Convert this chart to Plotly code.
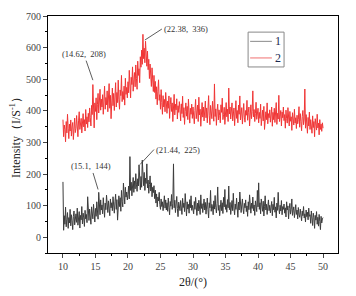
import plotly.graph_objects as go

# intensity of sample 1 (10.0 .. 50.0 step 0.1)
sample1 = [
    175, 22, 68, 41, 95, 33, 57, 78, 28, 62, 45, 88, 36, 71, 52, 24, 66, 83, 39, 58,
    74, 47, 92, 38, 63, 81, 29, 69, 55, 97, 42, 76, 61, 34, 85, 58, 72, 46, 128, 64,
    53, 89, 67, 41, 96, 72, 58, 104, 79, 48, 91, 66, 112, 83, 57, 142, 95, 71, 118, 86,
    102, 74, 125, 91, 63, 108, 87, 133, 96, 78, 115, 99, 68, 121, 93, 109, 84, 128, 97, 76,
    112, 136, 88, 119, 54, 104, 131, 97, 125, 82, 148, 113, 96, 171, 122, 105, 158, 127, 143, 118,
    135, 162, 121, 255, 148, 174, 131, 166, 189, 142, 178, 153, 201, 168, 145, 185, 162, 229, 171, 150,
    192, 158, 244, 176, 163, 205, 148, 187, 170, 232, 156, 181, 139, 167, 194, 146, 172, 128, 158, 141,
    163, 122, 149, 108, 137, 96, 127, 115, 142, 103, 88, 121, 97, 112, 84, 105, 131, 92, 118, 86,
    109, 82, 124, 95, 71, 113, 98, 135, 88, 106, 232, 93, 117, 78, 102, 129, 91, 65, 111, 97,
    84, 116, 99, 72, 123, 94, 108, 81, 138, 96, 67, 112, 89, 104, 76, 119, 93, 131, 85, 101,
    92, 74, 113, 88, 126, 97, 69, 108, 83, 117, 95, 72, 134, 91, 106, 78, 99, 121, 86, 110,
    73, 98, 124, 87, 61, 109, 93, 148, 82, 104, 96, 71, 115, 89, 132, 94, 77, 106, 159, 85,
    101, 68, 92, 117, 84, 109, 75, 126, 96, 151, 88, 103, 79, 119, 93, 162, 87, 110, 72, 98,
    116, 84, 139, 92, 71, 105, 88, 124, 97, 63, 111, 86, 143, 95, 78, 102, 121, 89, 74, 107,
    93, 118, 81, 99, 66, 112, 87, 134, 95, 76, 108, 91, 127, 84, 102, 69, 115, 93, 81, 148,
    96, 172, 88, 109, 74, 121, 93, 82, 114, 67, 98, 131, 86, 104, 72, 95, 118, 84, 101, 77,
    92, 113, 68, 104, 87, 126, 79, 96, 61, 108, 85, 142, 93, 74, 101, 83, 116, 71, 97, 88,
    105, 76, 93, 64, 112, 86, 99, 58, 91, 107, 73, 88, 121, 69, 84, 96, 62, 79, 103, 72,
    86, 58, 94, 71, 63, 89, 77, 52, 83, 68, 97, 61, 74, 48, 86, 65, 79, 55, 92, 66,
    71, 44, 83, 59, 37, 76, 62, 28, 69, 54, 81, 41, 63, 35, 72, 50, 24, 66, 45, 58,
    62,
]

# intensity of sample 2 (plotted with offset, 10.0 .. 50.0 step 0.1)
sample2 = [
    372, 318, 355, 341, 302, 366, 330, 389, 345, 312, 358, 336, 371, 320, 349, 363, 309, 352, 377, 331,
    344, 385, 352, 318, 368, 397, 341, 359, 376, 330, 362, 391, 349, 372, 336, 404, 358, 381, 347, 392,
    365, 409, 378, 352, 417, 388, 483, 401, 346, 425, 398, 441, 372, 419, 455, 393, 430, 468, 402, 437,
    412, 451, 389, 436, 478, 405, 442, 419, 463, 397, 431, 486, 408, 449, 375, 438, 472, 416, 455, 401,
    444, 489, 412, 458, 426, 497, 437, 405, 466, 448, 512, 429, 461, 436, 478, 418, 503, 452, 474, 441,
    492, 457, 528, 468, 441, 506, 483, 539, 462, 498, 521, 476, 545, 503, 468, 557, 512, 533, 489, 571,
    538, 592, 547, 642, 565, 598, 552, 620, 574, 541, 589, 530, 563, 502, 548, 519, 477, 536, 498, 461,
    512, 458, 493, 437, 476, 419, 462, 498, 433, 451, 405, 467, 426, 389, 448, 412, 436, 397, 458, 418,
    392, 431, 408, 447, 376, 419, 442, 398, 425, 366, 411, 452, 387, 421, 403, 438, 374, 416, 395, 429,
    404, 368, 422, 391, 446, 379, 410, 357, 398, 425, 383, 414, 372, 437, 396, 361, 408, 389, 421, 376,
    412, 384, 359, 401, 436, 375, 392, 418, 366, 443, 387, 405, 351, 397, 426, 380, 412, 368, 394, 431,
    378, 409, 362, 391, 448, 384, 356, 417, 393, 375, 430, 398, 367, 485, 382, 406, 354, 399, 421, 371,
    403, 386, 362, 419, 395, 440, 372, 388, 411, 357, 396, 426, 381, 405, 366, 472, 390, 412, 374, 398,
    425, 368, 391, 409, 353, 386, 432, 376, 401, 362, 418, 389, 447, 371, 395, 410, 358, 392, 423, 380,
    364, 401, 386, 433, 370, 395, 412, 352, 388, 419, 375, 398, 463, 381, 404, 366, 392, 427, 373, 389,
    408, 362, 395, 376, 421, 353, 389, 402, 368, 414, 341, 386, 397, 372, 425, 359, 391, 378, 403, 364,
    386, 412, 351, 395, 372, 408, 363, 389, 426, 357, 392, 374, 449, 366, 385, 401, 352, 396, 378, 412,
    369, 388, 345, 402, 376, 361, 410, 383, 352, 398, 367, 381, 338, 394, 372, 355, 405, 361, 378, 344,
    386, 359, 372, 413, 348, 391, 366, 337, 382, 401, 356, 374, 469, 345, 388, 362, 329, 379, 352, 396,
    341, 372, 358, 329, 384, 347, 366, 318, 375, 352, 339, 389, 346, 361, 324, 372, 341, 358, 335, 362,
    345,
]

two_theta_1 = [round(10 + 0.1 * i, 1) for i in range(len(sample1))]
two_theta_2 = [round(10 + 0.1 * i, 1) for i in range(len(sample2))]

series_names = ["1", "2"]
series_colors = ["#3c3c3c", "#f03535"]
legend_colors = ["#8a8a8a", "#f07070"]
x_ticks = [10, 15, 20, 25, 30, 35, 40, 45, 50]
y_ticks = [0, 100, 200, 300, 400, 500, 600, 700]

# peak labels: (x, y, text, ax, ay, xanchor)
peak_labels = [
    (22.6, 624, "(22.38,  336)", 17, -11, "left"),
    (14.6, 497, "(14.62,  208)", -9, -26, "center"),
    (15.4, 151, "(15.1,  144)", -7, -23, "center"),
    (21.85, 230, "(21.44,  225)", 14, -15, "left"),
]

fig = go.Figure()
fig.add_trace(go.Scatter(x=two_theta_1, y=sample1, mode="lines", name=series_names[0],
                         line=dict(color=series_colors[0], width=1)))
fig.add_trace(go.Scatter(x=two_theta_2, y=sample2, mode="lines", name=series_names[1],
                         line=dict(color=series_colors[1], width=1)))

ann = []
for (px, py, txt, axo, ayo, xa) in peak_labels:
    ann.append(dict(x=px, y=py, xref="x", yref="y", text=txt, showarrow=True,
                    arrowhead=0, arrowwidth=0.8, arrowcolor="#333",
                    ax=axo, ay=ayo, xanchor=xa, yanchor="middle",
                    font=dict(family="Liberation Serif", size=8.5, color="#333")))

# hand-drawn legend box (as in the reference)
shapes = [dict(type="rect", xref="paper", yref="paper", x0=0.690, x1=0.814, y0=0.785, y1=0.932,
               line=dict(color="#888", width=1), fillcolor="white", layer="above")]
legend_y = [0.893, 0.823]
for i, name in enumerate(series_names):
    shapes.append(dict(type="line", xref="paper", yref="paper", x0=0.697, x1=0.772,
                       y0=legend_y[i], y1=legend_y[i],
                       line=dict(color=legend_colors[i], width=1), layer="above"))
    ann.append(dict(x=0.776, y=legend_y[i], xref="paper", yref="paper", text=name,
                    showarrow=False, xanchor="left", yanchor="middle",
                    font=dict(family="Liberation Serif", size=12, color="#1a2a50")))

fig.update_layout(
    width=356, height=296,
    margin=dict(l=40, r=26, t=8, b=51),
    paper_bgcolor="white", plot_bgcolor="white",
    showlegend=False,
    annotations=ann,
    shapes=shapes,
    font=dict(family="Liberation Serif", color="#333"),
)
fig.update_xaxes(range=[7.7, 52.3], tickvals=x_ticks, ticks="outside", ticklen=4,
                 showline=True, linecolor="black", linewidth=1, mirror=True,
                 showgrid=False, zeroline=False, automargin=False,
                 tickfont=dict(family="Liberation Serif", size=10, color="#444"),
                 minor=dict(ticks="outside", ticklen=2, dtick=2.5, tick0=7.5, tickcolor="black"),
                 title=dict(text="2θ/(°)", font=dict(family="Liberation Serif", size=12, color="#222"),
                            standoff=6))
fig.update_yaxes(range=[-50, 700], tickvals=y_ticks, ticks="outside", ticklen=4,
                 showline=True, linecolor="black", linewidth=1, mirror=True,
                 showgrid=False, zeroline=False, automargin=False,
                 tickfont=dict(family="Liberation Serif", size=10, color="#444"),
                 minor=dict(ticks="outside", ticklen=2, dtick=50, tick0=-50, tickcolor="black"),
                 title=dict(text="Intensity（I/S<sup>-1</sup>）",
                            font=dict(family="Liberation Serif", size=12, color="#222"),
                            standoff=8))

fig.write_html("out.html")
